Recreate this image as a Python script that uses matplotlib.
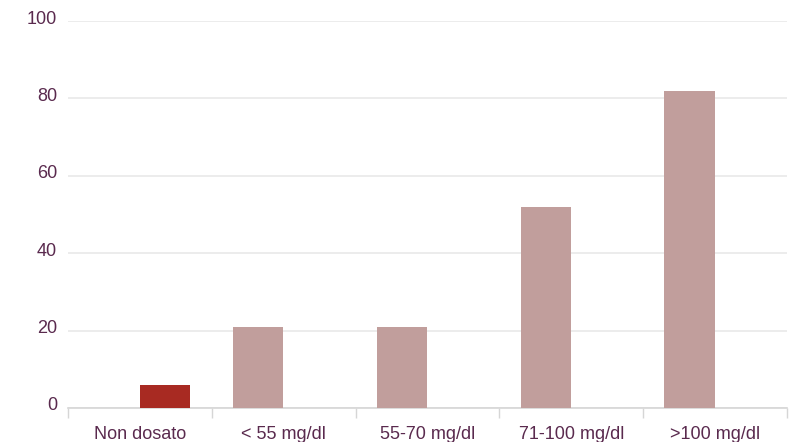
import matplotlib
matplotlib.use('Agg')
import matplotlib.pyplot as plt
import matplotlib.transforms as mtransforms
import numpy as np

# dati del grafico
categorie = ['Non dosato', '< 55 mg/dl', '55-70 mg/dl', '71-100 mg/dl', '>100 mg/dl']
valori_dosati = [0, 21, 21, 52, 82]
valori_non_dosati = [6, 0, 0, 0, 0]
yticks = [0, 20, 40, 60, 80, 100]

colore_testo = '#5a2a4e'
plt.rcParams['font.family'] = ['Liberation Sans', 'DejaVu Sans']

fig = plt.figure(figsize=(7.95, 4.42), dpi=100)
ax = fig.add_axes([68 / 795, 34 / 442, 719 / 795, 387 / 442])

x = np.arange(len(categorie))
w = 0.35
ax.bar(x - 0.178, valori_dosati, width=w, color='#c19e9c', zorder=3)
ax.bar(x + 0.176, valori_non_dosati, width=w, color='#a82a22', zorder=3)

ax.set_xlim(-0.5, len(categorie) - 0.5)
ax.set_ylim(0, 100)

# griglia orizzontale
ax.set_yticks(yticks)
ax.set_yticklabels([str(v) for v in yticks])
ax.yaxis.grid(True, color='#e9e9e9', linewidth=1.2, zorder=0)
ax.tick_params(axis='y', length=0, pad=8, labelsize=13, labelcolor=colore_testo)
# etichette leggermente sopra le linee, come nell'originale
sposta = mtransforms.ScaledTranslation(0, 4 / 100, fig.dpi_scale_trans)
for lab in ax.get_yticklabels():
    lab.set_transform(lab.get_transform() + sposta)

# etichette categorie e separatori
ax.set_xticks(x)
ax.set_xticklabels(categorie)
ax.set_xticks(np.arange(len(categorie) + 1) - 0.5, minor=True)
ax.tick_params(axis='x', which='major', length=0, pad=13, labelsize=13, labelcolor=colore_testo)
ax.tick_params(axis='x', which='minor', length=7, width=1, color='#d6d6d6')

for s in ['top', 'right', 'left']:
    ax.spines[s].set_visible(False)
ax.spines['bottom'].set_color('#d6d6d6')
ax.spines['bottom'].set_linewidth(1.2)

plt.savefig('out.png', dpi=100)
